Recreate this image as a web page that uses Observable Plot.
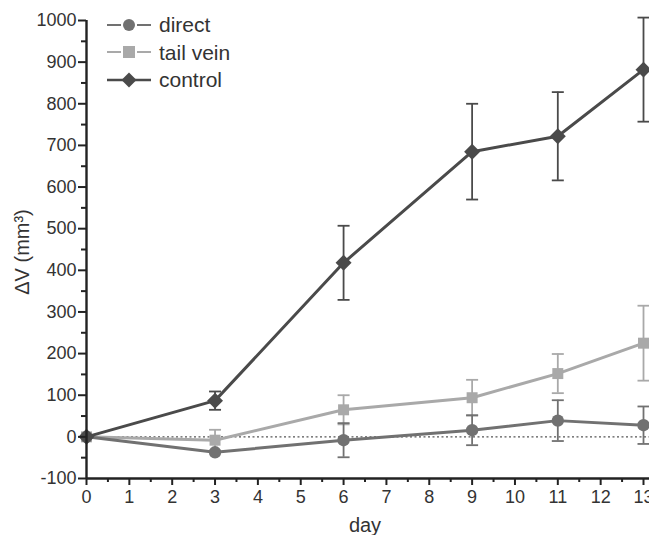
<!DOCTYPE html>
<html><head><meta charset="utf-8">
<script src="https://cdn.jsdelivr.net/npm/d3@7"></script>
<script src="https://cdn.jsdelivr.net/npm/@observablehq/plot@0.6"></script>
<style>
body{margin:0;background:#fff;font-family:"Liberation Sans",Arial,sans-serif;}
#wrap{position:relative;width:649px;height:535px;overflow:hidden;}
#legend{position:absolute;left:105px;top:11px;font-size:21px;color:#333;line-height:27.5px;}
#legend div{display:flex;align-items:center;height:27.5px;}
#legend svg{margin-right:6px;}
</style></head><body>
<div id="wrap"><div id="legend"></div></div>
<script>
const days = [0, 3, 6, 9, 11, 13];
const seriesNames = ["direct", "tail vein", "control"];
const directMean = [0, -37, -8, 16, 39, 28];
const directErr = [0, 0, 41, 36, 49, 45];
const tailMean = [0, -8, 65, 94, 152, 225];
const tailErr = [0, 25, 35, 43, 47, 90];
const controlMean = [0, 87, 418, 685, 722, 882];
const controlErr = [0, 22, 89, 115, 106, 125];
const yTicks = [-100, 0, 100, 200, 300, 400, 500, 600, 700, 800, 900, 1000];
const xTicks = [0,1,2,3,4,5,6,7,8,9,10,11,12,13];

const colors = {"direct": "#717171", "tail vein": "#a9a9a9", "control": "#4a4a4a"};
const symbols = {"direct": "circle", "tail vein": "square", "control": "diamond2"};
const sizes = {"direct": 6.2, "tail vein": 6.2, "control": 7.2};

const means = [directMean, tailMean, controlMean];
const errs = [directErr, tailErr, controlErr];
const data = [];
seriesNames.forEach((s, i) => days.forEach((d, j) => data.push({series: s, day: d, v: means[i][j], lo: means[i][j] - errs[i][j], hi: means[i][j] + errs[i][j], e: errs[i][j]})));
const withErr = data.filter(d => d.e > 0);

const capSymbol = {draw(ctx, size){ const w = 6; ctx.moveTo(-w, 0); ctx.lineTo(w, 0); }};
const yMinor = d3.range(-50, 1000, 100);
const xMinor = d3.range(0.5, 13.5, 1);

const drawOrder = ["tail vein", "direct", "control"];
const marks = [
  Plot.ruleY([0], {stroke: "#555", strokeDasharray: "2,2.5", strokeWidth: 1.4}),
];
for (const s of drawOrder) {
  const sd = data.filter(d => d.series === s);
  const se = withErr.filter(d => d.series === s);
  marks.push(
    Plot.ruleX(se, {x: "day", y1: "lo", y2: "hi", stroke: colors[s], strokeWidth: 1.8}),
    Plot.dot(se, {x: "day", y: "lo", symbol: () => capSymbol, stroke: colors[s], strokeWidth: 1.8}),
    Plot.dot(se, {x: "day", y: "hi", symbol: () => capSymbol, stroke: colors[s], strokeWidth: 1.8}),
    Plot.line(sd, {x: "day", y: "v", stroke: colors[s], strokeWidth: 3}),
    Plot.dot(sd, {x: "day", y: "v", symbol: () => symbols[s], r: sizes[s], fill: colors[s], stroke: "none"})
  );
}
marks.push(
  Plot.ruleX([0], {stroke: "#222", strokeWidth: 2.4}),
  Plot.ruleY([-100], {stroke: "#222", strokeWidth: 2.4}),
  Plot.axisY({ticks: yTicks, tickSize: 8, tickPadding: 2, tickFormat: d => d < 0 ? "-" + Math.abs(d) : String(d), stroke: "#222", strokeWidth: 2, label: null, fontSize: 18, fill: "#333"}),
  Plot.axisY({ticks: yMinor, tickSize: 5, text: null, stroke: "#222", strokeWidth: 2, label: null}),
  Plot.axisX({ticks: xTicks, tickSize: 7, tickPadding: 5, stroke: "#222", strokeWidth: 2, label: null, fontSize: 18, fill: "#333", tickFormat: d => String(d)}),
  Plot.axisX({ticks: xMinor, tickSize: 4, text: null, stroke: "#222", strokeWidth: 2, label: null})
);

const chart = Plot.plot({
  width: 649, height: 535,
  marginLeft: 86, marginRight: 0, marginTop: 20, marginBottom: 57,
  style: {fontFamily: '"Liberation Sans", Arial, sans-serif', background: "transparent", overflow: "visible"},
  x: {domain: [0, 13.14]},
  y: {domain: [-100, 1000]},
  marks
});
const wrap = document.getElementById("wrap");
wrap.appendChild(chart);

// axis titles
const ns = "http://www.w3.org/2000/svg";
const svg = chart.tagName === "svg" ? chart : chart.querySelector("svg");
const yl = document.createElementNS(ns, "text");
yl.setAttribute("transform", "translate(29,252) rotate(-90)");
yl.setAttribute("text-anchor", "middle");
yl.setAttribute("font-size", "20");
yl.setAttribute("fill", "#333");
yl.textContent = "ΔV (mm³)";
svg.appendChild(yl);
const xl = document.createElementNS(ns, "text");
xl.setAttribute("x", 365); xl.setAttribute("y", 532);
xl.setAttribute("text-anchor", "middle");
xl.setAttribute("font-size", "20");
xl.setAttribute("fill", "#333");
xl.textContent = "day";
svg.appendChild(xl);

// legend
const leg = document.getElementById("legend");
for (const s of seriesNames) {
  const row = document.createElement("div");
  const sym = symbols[s];
  let shape = "";
  if (sym === "circle") shape = `<circle cx="24" cy="10" r="6" fill="${colors[s]}"/>`;
  else if (sym === "square") shape = `<rect x="18" y="4" width="12" height="12" fill="${colors[s]}"/>`;
  else shape = `<path d="M24,2.5 L31.5,10 L24,17.5 L16.5,10Z" fill="${colors[s]}"/>`;
  const lines = s === "control"
    ? `<line x1="2" x2="46" y1="10" y2="10" stroke="${colors[s]}" stroke-width="2.4"/>`
    : `<line x1="2" x2="16" y1="10" y2="10" stroke="${colors[s]}" stroke-width="2"/><line x1="32" x2="46" y1="10" y2="10" stroke="${colors[s]}" stroke-width="2"/>`;
  row.innerHTML = `<svg width="48" height="20">${lines}${shape}</svg><span>${s}</span>`;
  leg.appendChild(row);
}
</script>
</body></html>
